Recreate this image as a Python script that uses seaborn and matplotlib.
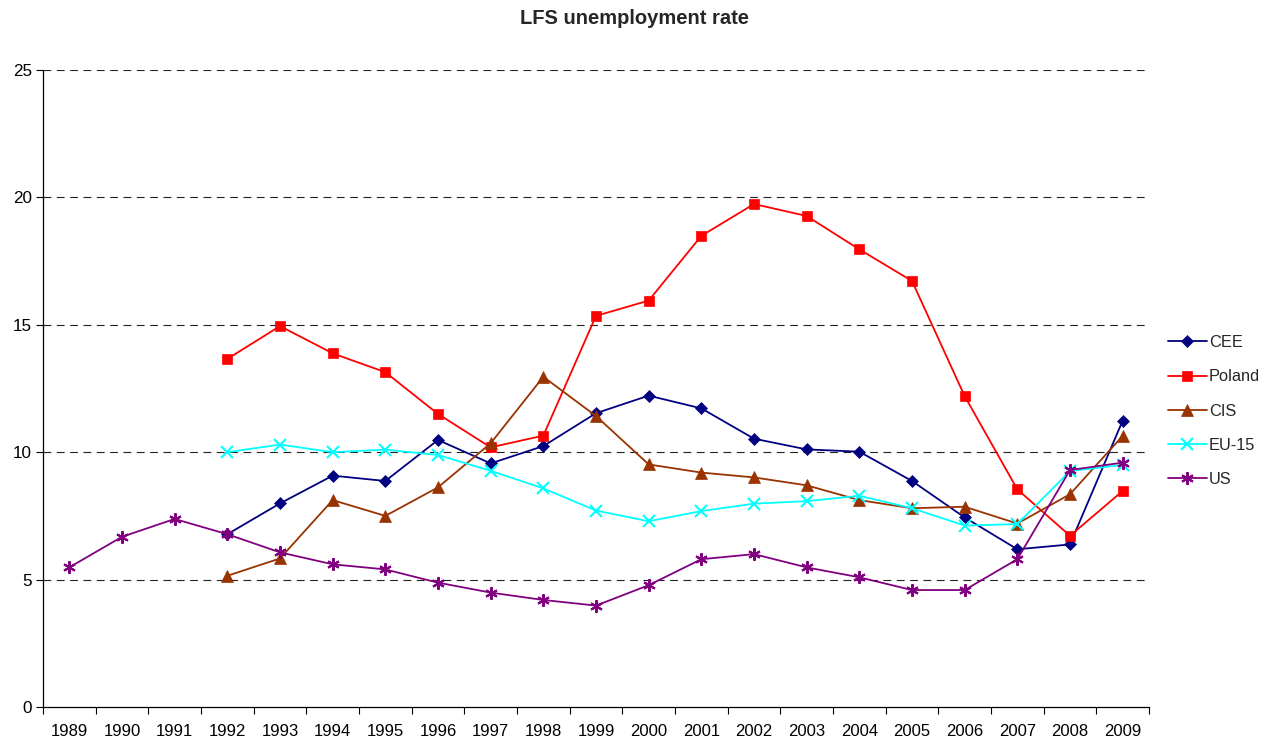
import matplotlib
matplotlib.use("Agg")
import matplotlib.pyplot as plt
import seaborn as sns
import numpy as np
import pandas as pd
from matplotlib.ticker import FixedLocator, NullFormatter, FixedFormatter

years = list(range(1989, 2010))
nan = np.nan
cee = [nan, nan, nan, 6.78, 7.99, 9.08, 8.87, 10.48, 9.56, 10.24, 11.53, 12.22,
       11.72, 10.53, 10.11, 10.02, 8.87, 7.44, 6.19, 6.38, 11.24]
poland = [nan, nan, nan, 13.66, 14.95, 13.88, 13.14, 11.5, 10.19, 10.65, 15.35, 15.95,
          18.49, 19.74, 19.27, 17.96, 16.72, 12.2, 8.54, 6.72, 8.48]
cis = [nan, nan, nan, 5.15, 5.83, 8.12, 7.5, 8.62, 10.35, 12.96, 11.42, 9.52,
       9.2, 9.01, 8.7, 8.12, 7.8, 7.86, 7.2, 8.35, 10.64]
eu15 = [nan, nan, nan, 10.0, 10.3, 10.0, 10.1, 9.89, 9.27, 8.58, 7.71, 7.29,
        7.69, 7.98, 8.08, 8.29, 7.8, 7.12, 7.18, 9.26, 9.5]
us = [5.48, 6.68, 7.38, 6.78, 6.07, 5.6, 5.4, 4.88, 4.49, 4.2, 3.98, 4.78,
      5.8, 6.0, 5.48, 5.09, 4.59, 4.59, 5.8, 9.3, 9.59]

series_names = ["CEE", "Poland", "CIS", "EU-15", "US"]
series_values = [cee, poland, cis, eu15, us]
y_ticks = [0, 5, 10, 15, 20, 25]

colors = {"CEE": "#000080", "Poland": "#FF0000", "CIS": "#993300",
          "EU-15": "#00FFFF", "US": "#800080"}
markers = {"CEE": "D", "Poland": "s", "CIS": "^", "EU-15": "x", "US": (6, 2, 0)}
msizes = {"CEE": 6, "Poland": 7.5, "CIS": 8, "EU-15": 8, "US": 9}
mew = {"CEE": 0.5, "Poland": 0.5, "CIS": 0.5, "EU-15": 1.5, "US": 1.5}

sns.set_theme(style="white")
plt.rcParams['font.family'] = ['Liberation Sans', 'DejaVu Sans']

fig = plt.figure(figsize=(12.65, 7.43), dpi=100)
ax = fig.add_axes([43/1265, 1-707/743, (1149-43)/1265, (707-70)/743])

for name, vals in zip(series_names, series_values):
    d = pd.DataFrame({"year": years, "rate": vals}).dropna()
    sns.lineplot(data=d, x="year", y="rate", color=colors[name],
                 marker=markers[name], markersize=msizes[name],
                 markeredgewidth=mew[name], markeredgecolor=colors[name],
                 markerfacecolor=colors[name], lw=1.3, ax=ax, label=name)

ax.set_xlim(years[0] - 0.5, years[-1] + 0.5)
ax.set_ylim(0, 25)
ax.set_xlabel("")
ax.set_ylabel("")

bounds = [y - 0.5 for y in years] + [years[-1] + 0.5]
ax.xaxis.set_major_locator(FixedLocator(bounds))
ax.xaxis.set_major_formatter(NullFormatter())
ax.xaxis.set_minor_locator(FixedLocator(years))
ax.xaxis.set_minor_formatter(FixedFormatter([str(y) for y in years]))
ax.tick_params(axis="x", which="major", direction="out", length=5, width=0.8,
               color="black", bottom=True)
ax.tick_params(axis="x", which="minor", length=0, pad=12, labelsize=12,
               labelcolor="black")
ax.set_yticks(y_ticks)
ax.tick_params(axis="y", direction="out", length=5, width=0.8, color="black",
               left=True, labelsize=12.3, labelcolor="black", pad=3)

for t in y_ticks[1:]:
    ax.axhline(t, color="#222222", lw=0.8, ls=(0, (7, 5)), zorder=0)

for s in ["top", "right"]:
    ax.spines[s].set_visible(False)
for s in ["left", "bottom"]:
    ax.spines[s].set_color("black")
    ax.spines[s].set_linewidth(0.9)

leg = ax.legend(loc="center left", bbox_to_anchor=(1153/1265, 1-411/743),
                bbox_transform=fig.transFigure, frameon=False, fontsize=11.8,
                handlelength=2.4, labelspacing=1.17, handletextpad=0.1)

fig.suptitle("LFS unemployment rate", x=635/1265, y=1-18/743, fontsize=14.5,
             fontweight="bold", va="center")

fig.savefig("out.png", dpi=100)
